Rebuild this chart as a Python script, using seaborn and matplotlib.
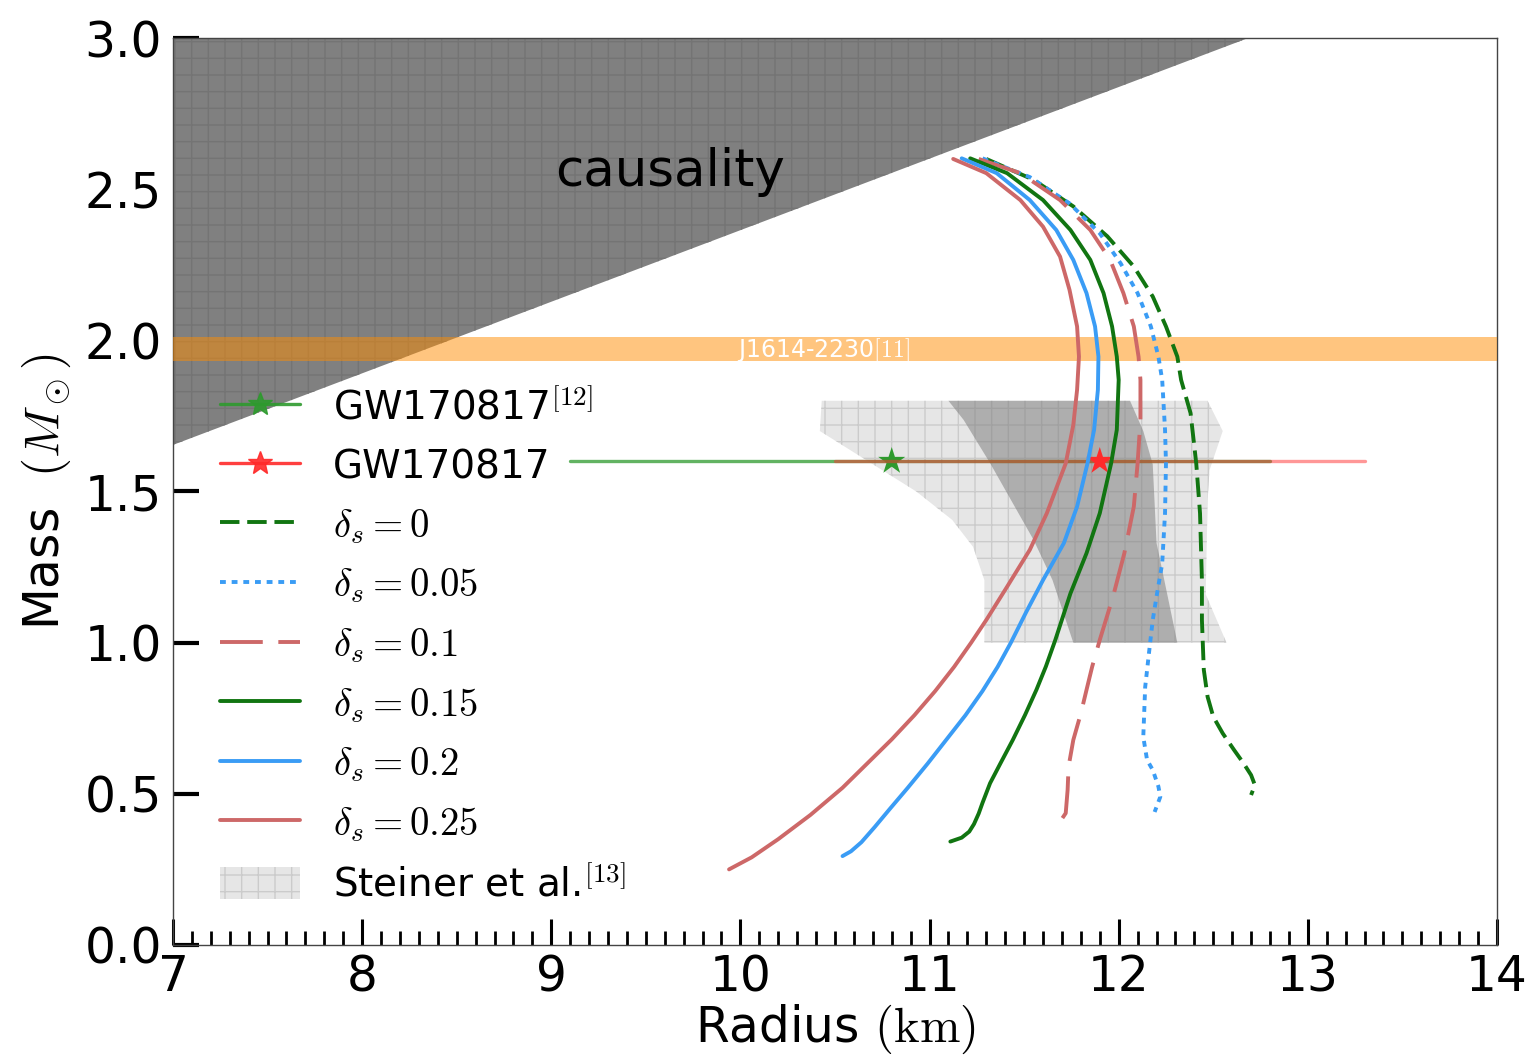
import matplotlib
matplotlib.use('Agg')
import matplotlib.pyplot as plt
import seaborn as sns
from matplotlib.lines import Line2D
from matplotlib.patches import Patch

# ---------------- data ----------------
causality_R = [7.0, 12.685, 7.0]
causality_M = [1.654, 3.0, 3.0]

j1614_low, j1614_high = 1.93, 2.01

steiner_outer_R = [10.43, 12.47, 12.55, 12.48, 12.47, 12.46, 12.57, 11.29, 11.29, 11.23, 11.12, 10.93, 10.42]
steiner_outer_M = [1.80, 1.80, 1.70, 1.57, 1.47, 1.16, 1.00, 1.00, 1.207, 1.317, 1.406, 1.50, 1.70]
steiner_inner_R = [11.10, 12.06, 12.13, 12.18, 12.20, 12.31, 11.76, 11.65, 11.55, 11.32, 11.18]
steiner_inner_M = [1.80, 1.80, 1.70, 1.59, 1.33, 1.00, 1.00, 1.207, 1.34, 1.594, 1.737]

gw_green_R, gw_green_lo, gw_green_hi = 10.8, 9.1, 12.8
gw_red_R, gw_red_lo, gw_red_hi = 11.9, 10.5, 13.3
gw_M = 1.6

d000_R = [11.30, 11.55, 11.76, 11.94, 12.08, 12.18, 12.25, 12.31, 12.33, 12.38, 12.41, 12.43, 12.44, 12.44,
          12.45, 12.47, 12.50, 12.55, 12.61, 12.66, 12.70, 12.72, 12.70]
d000_M = [2.60, 2.531, 2.443, 2.344, 2.244, 2.145, 2.046, 1.946, 1.869, 1.759, 1.593, 1.428, 1.207, 1.075,
          0.91, 0.821, 0.755, 0.70, 0.645, 0.601, 0.562, 0.529, 0.496]

d005_R = [11.28, 11.53, 11.74, 11.90, 12.01, 12.10, 12.17, 12.21, 12.23, 12.245, 12.25, 12.245, 12.23, 12.20,
          12.18, 12.16, 12.14, 12.13, 12.15, 12.18, 12.21, 12.22, 12.19]
d005_M = [2.602, 2.54, 2.453, 2.354, 2.255, 2.156, 2.046, 1.946, 1.869, 1.704, 1.593, 1.428, 1.262, 1.152,
          1.075, 0.965, 0.853, 0.688, 0.612, 0.579, 0.524, 0.49, 0.44]

d010_R = [11.26, 11.48, 11.69, 11.85, 11.955, 12.025, 12.08, 12.105, 12.115, 12.115, 12.10, 12.08, 12.03,
          11.97, 11.90, 11.86, 11.83, 11.80, 11.76, 11.735, 11.73, 11.72, 11.69, 11.655]
d010_M = [2.60, 2.553, 2.464, 2.365, 2.266, 2.156, 2.046, 1.946, 1.869, 1.737, 1.593, 1.45, 1.296,
          1.152, 1.009, 0.921, 0.844, 0.766, 0.678, 0.59, 0.513, 0.436, 0.408, 0.391]

d015_R = [11.215, 11.41, 11.60, 11.745, 11.85, 11.92, 11.965, 11.99, 12.00, 11.99, 11.96, 11.90, 11.83,
          11.745, 11.665, 11.615, 11.565, 11.505, 11.44, 11.375, 11.32, 11.28, 11.26, 11.235, 11.21, 11.17, 11.11]
d015_M = [2.602, 2.553, 2.464, 2.365, 2.266, 2.156, 2.046, 1.946, 1.869, 1.704, 1.593, 1.428, 1.296,
          1.163, 1.009, 0.921, 0.844, 0.761, 0.678, 0.601, 0.535, 0.47, 0.435, 0.40, 0.375, 0.355, 0.342]

d020_R = [11.17, 11.355, 11.53, 11.67, 11.76, 11.83, 11.875, 11.893, 11.89, 11.87, 11.835, 11.78, 11.71,
          11.60, 11.51, 11.43, 11.36, 11.28, 11.19, 11.09, 10.99, 10.885, 10.79, 10.71, 10.64, 10.585, 10.54]
d020_M = [2.602, 2.553, 2.464, 2.365, 2.266, 2.156, 2.046, 1.946, 1.836, 1.704, 1.593, 1.45, 1.329,
          1.207, 1.10, 1.0, 0.92, 0.84, 0.76, 0.68, 0.60, 0.52, 0.45, 0.39, 0.34, 0.31, 0.294]

d025_R = [11.125, 11.30, 11.48, 11.60, 11.69, 11.74, 11.78, 11.79, 11.78, 11.76, 11.72, 11.62, 11.53,
          11.41, 11.30, 11.22, 11.13, 11.03, 10.92, 10.80, 10.67, 10.54, 10.37, 10.20, 10.06, 9.94]
d025_M = [2.60, 2.553, 2.464, 2.376, 2.277, 2.167, 2.046, 1.946, 1.836, 1.72, 1.593, 1.428, 1.307,
          1.185, 1.075, 1.0, 0.92, 0.84, 0.76, 0.68, 0.60, 0.52, 0.43, 0.35, 0.29, 0.25]

x_ticks = [7, 8, 9, 10, 11, 12, 13, 14]
y_ticks = [0.0, 0.5, 1.0, 1.5, 2.0, 2.5, 3.0]

# ---------------- style ----------------
sns.set_theme(style='white')
plt.rcParams['font.family'] = ['DejaVu Sans']
plt.rcParams['mathtext.fontset'] = 'cm'
plt.rcParams['hatch.linewidth'] = 1.0
plt.rcParams['text.color'] = 'black'
plt.rcParams['axes.labelcolor'] = 'black'
plt.rcParams['xtick.color'] = 'black'
plt.rcParams['ytick.color'] = 'black'

GREEN = '#117511'
BLUE = '#3a9cf5'
RED = '#cd6868'
LW = 2.8

fig = plt.figure(figsize=(15.36, 10.62), dpi=100)
ax = fig.add_axes([0.1126, 0.1102, 0.862, 0.854])

# causality region
ax.fill(causality_R, causality_M, facecolor='#808080', edgecolor='#747474',
        hatch='+', linewidth=0, zorder=1)
ax.text(9.63, 2.557, 'causality', fontsize=37, ha='center', va='center',
        color='black', zorder=6)

# Steiner et al. regions
ax.fill(steiner_outer_R, steiner_outer_M, facecolor='#e6e6e6', edgecolor='#cbcbcb',
        hatch='+', linewidth=0, zorder=2)
ax.fill(steiner_inner_R, steiner_inner_M, facecolor='#808080', alpha=0.55,
        linewidth=0, zorder=2.1)

# J1614 band
ax.axhspan(j1614_low, j1614_high, color='darkorange', alpha=0.5, lw=0, zorder=3)
ax.text(10.44, 1.967, 'J1614-2230$\\mathrm{[11]}$', color='white', fontsize=17,
        ha='center', va='center', zorder=3.5)

# GW170817 constraints
sns.lineplot(x=[gw_green_lo, gw_green_hi], y=[gw_M, gw_M], color='#2e9a2e', alpha=0.75,
             linewidth=2.4, ax=ax, zorder=4, estimator=None, sort=False)
sns.scatterplot(x=[gw_green_R], y=[gw_M], marker='*', s=420, color='#2e9a2e',
                edgecolor='none', ax=ax, zorder=4.1)
sns.lineplot(x=[gw_red_lo, gw_red_hi], y=[gw_M, gw_M], color='#ff3030', alpha=0.5,
             linewidth=2.4, ax=ax, zorder=4.2, estimator=None, sort=False)
sns.scatterplot(x=[gw_red_R], y=[gw_M], marker='*', s=420, color='#ff2a2a',
                edgecolor='none', ax=ax, zorder=4.3)

# M-R curves
DASH0 = (0, (5, 2))
DOT = (0, (1.5, 1.5))
DASH1 = (0, (11, 4))
curves = [
    (d000_R, d000_M, GREEN, DASH0),
    (d005_R, d005_M, BLUE, DOT),
    (d010_R, d010_M, RED, DASH1),
    (d015_R, d015_M, GREEN, '-'),
    (d020_R, d020_M, BLUE, '-'),
    (d025_R, d025_M, RED, '-'),
]
for R, M, c, ls in curves:
    sns.lineplot(x=R, y=M, color=c, linewidth=LW, linestyle=ls, ax=ax,
                 estimator=None, sort=False, zorder=5)

# axes
ax.set_xlim(7, 14)
ax.set_ylim(0, 3)
ax.set_xticks(x_ticks)
ax.set_xticklabels([str(t) for t in x_ticks])
ax.set_yticks(y_ticks)
ax.set_yticklabels([f'{t:.1f}' for t in y_ticks])
ax.set_xticks([7 + 0.1 * i for i in range(71)], minor=True)
ax.tick_params(axis='x', which='major', direction='in', length=19, width=2.2,
               labelsize=35, pad=6, bottom=True, top=False)
ax.tick_params(axis='x', which='minor', direction='in', length=10, width=2.0,
               bottom=True, top=False)
ax.tick_params(axis='y', which='major', direction='in', length=19, width=3.0,
               labelsize=35, pad=8, left=True, right=False)
for s in ax.spines.values():
    s.set_linewidth(1.0)
    s.set_color('#444444')
ax.set_xlabel('Radius $(\\mathrm{km})$', fontsize=35, labelpad=1)
ax.set_ylabel('Mass  $(M_\\odot)$', fontsize=35, labelpad=8)

# legend
handles = [
    Line2D([], [], color='#2e9a2e', lw=2.4, marker='*', markersize=18, alpha=0.9),
    Line2D([], [], color='#ff2a2a', lw=2.4, marker='*', markersize=18, alpha=0.9),
    Line2D([], [], color=GREEN, lw=LW, linestyle=DASH0),
    Line2D([], [], color=BLUE, lw=LW, linestyle=DOT),
    Line2D([], [], color=RED, lw=LW, linestyle=DASH1),
    Line2D([], [], color=GREEN, lw=LW),
    Line2D([], [], color=BLUE, lw=LW),
    Line2D([], [], color=RED, lw=LW),
    Patch(facecolor='#e6e6e6', edgecolor='#cbcbcb', hatch='+', linewidth=0),
]
labels = [
    'GW170817$^{[12]}$',
    'GW170817',
    '$\\delta_s=0$',
    '$\\delta_s=0.05$',
    '$\\delta_s=0.1$',
    '$\\delta_s=0.15$',
    '$\\delta_s=0.2$',
    '$\\delta_s=0.25$',
    'Steiner et al.$^{[13]}$',
]
leg = ax.legend(handles, labels, loc='upper left', bbox_to_anchor=(0.0355, 0.615),
                frameon=False, fontsize=28, handlelength=2.06, handletextpad=0.85,
                labelspacing=0.54, borderpad=0, borderaxespad=0, handleheight=0.9)
leg.set_zorder(7)

fig.savefig('out.png', dpi=100)
